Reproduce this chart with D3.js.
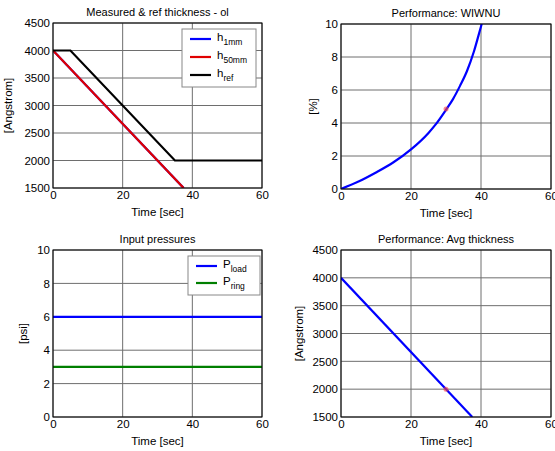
<!DOCTYPE html>
<html lang="en">
<head>
<meta charset="utf-8">
<title>Thickness control</title>
<script src="https://cdn.jsdelivr.net/npm/d3@7"></script>
<style>
  body { margin: 0; background: #fff; }
  text { font-family: "Liberation Sans", Arial, sans-serif; fill: #000; }
</style>
</head>
<body>
<div id="fig"></div>
<script>
// thickness (top left)
var thickTime = [0, 37.5];
var h1mm = [4000, 1500];
var h50mm = [4000, 1500];
var refTime = [0, 5, 35, 60];
var href = [4000, 4000, 2000, 2000];

// WIWNU (top right)
var wiwnuTime = [0, 5, 10, 15, 20, 25, 27, 30, 32, 34, 36, 38, 40, 40.2];
var wiwnu = [0, 0.45, 1.0, 1.62, 2.4, 3.4, 3.9, 4.8, 5.45, 6.25, 7.15, 8.35, 9.85, 10];

// pressures (bottom left)
var presTime = [0, 60];
var pLoad = [6, 6];
var pRing = [3, 3];

// avg thickness (bottom right)
var avgTime = [0, 37.5];
var avgThick = [4000, 1500];

// marker at current time
var markTime = 30;
var markWiwnu = 4.85;
var markAvg = 2000;

var xTicks = [0, 20, 40, 60];
var thickTicks = [1500, 2000, 2500, 3000, 3500, 4000, 4500];
var pctTicks = [0, 2, 4, 6, 8, 10];

var W = 555, H = 451;
var svg = d3.select("#fig").append("svg").attr("width", W).attr("height", H);

var BLUE = "#0000ff", RED = "#e00000", BLACK = "#000", GREEN = "#007f00";

function zip(a, b) { return a.map(function(v, i) { return [v, b[i]]; }); }

var clipId = 0;
function panel(o) {
  var x = d3.scaleLinear().domain([0, 60]).range([o.left, o.right]);
  var y = d3.scaleLinear().domain(o.ydom).range([o.bottom, o.top]);
  var g = svg.append("g");

  // grid
  g.selectAll(".gx").data(xTicks).enter().append("line")
    .attr("x1", function(d) { return x(d); }).attr("x2", function(d) { return x(d); })
    .attr("y1", o.top).attr("y2", o.bottom)
    .attr("stroke", "#6e6e6e").attr("stroke-width", 1);
  g.selectAll(".gy").data(o.yticks).enter().append("line")
    .attr("y1", function(d) { return y(d); }).attr("y2", function(d) { return y(d); })
    .attr("x1", o.left).attr("x2", o.right)
    .attr("stroke", "#6e6e6e").attr("stroke-width", 1);

  // axes
  var ax = g.append("g").attr("transform", "translate(0," + o.bottom + ")")
    .call(d3.axisBottom(x).tickValues(xTicks).tickFormat(d3.format("d")).tickSize(0).tickPadding(3));
  var ay = g.append("g").attr("transform", "translate(" + o.left + ",0)")
    .call(d3.axisLeft(y).tickValues(o.yticks).tickFormat(d3.format("d")).tickSize(0).tickPadding(3));
  [ax, ay].forEach(function(a) {
    a.select(".domain").remove();
    a.selectAll("text").style("font-family", "Liberation Sans, Arial, sans-serif")
      .style("font-size", "11.5px").attr("fill", "#222");
  });

  // lines
  clipId++;
  svg.append("clipPath").attr("id", "c" + clipId).append("rect")
    .attr("x", o.left).attr("y", o.top)
    .attr("width", o.right - o.left).attr("height", o.bottom - o.top);
  var lg = g.append("g").attr("clip-path", "url(#c" + clipId + ")");
  o.series.forEach(function(s) {
    var line = d3.line().curve(s.smooth ? d3.curveMonotoneX : d3.curveLinear)
      .x(function(d) { return x(d[0]); }).y(function(d) { return y(d[1]); });
    lg.append("path").datum(s.pts).attr("d", line)
      .attr("fill", "none").attr("stroke", s.color).attr("stroke-width", 2.2);
  });
  if (o.mark) {
    lg.append("circle").attr("cx", x(o.mark[0])).attr("cy", y(o.mark[1])).attr("r", 2.5)
      .attr("fill", "#ff4040").attr("opacity", 0.6);
  }

  // box
  g.append("rect").attr("x", o.left).attr("y", o.top)
    .attr("width", o.right - o.left).attr("height", o.bottom - o.top)
    .attr("fill", "none").attr("stroke", "#000").attr("stroke-width", 1);

  // labels
  g.append("text").attr("x", (o.left + o.right) / 2).attr("y", o.top - 7)
    .attr("text-anchor", "middle").style("font-size", "11px").text(o.title);
  g.append("text").attr("x", (o.left + o.right) / 2).attr("y", o.bottom + 28)
    .attr("text-anchor", "middle").style("font-size", "11.5px").text("Time [sec]");
  g.append("text")
    .attr("transform", "translate(" + o.ylabX + "," + (o.top + o.bottom) / 2 + ") rotate(-90)")
    .attr("text-anchor", "middle").style("font-size", "11.5px").text(o.ylabel);

  // legend
  if (o.legend) {
    var L = o.legend;
    g.append("rect").attr("x", L.x).attr("y", L.y).attr("width", L.w).attr("height", L.h)
      .attr("fill", "#fff").attr("stroke", "#888").attr("stroke-width", 1);
    L.items.forEach(function(it, i) {
      var yy = L.y + L.first + i * L.step;
      g.append("line").attr("x1", L.x + 8).attr("x2", L.x + 29)
        .attr("y1", yy).attr("y2", yy).attr("stroke", it.color).attr("stroke-width", 2.2);
      var t = g.append("text").attr("x", L.x + 35).attr("y", yy + 2).style("font-size", "11.5px");
      t.append("tspan").text(it.main);
      t.append("tspan").attr("dy", 4).style("font-size", "8.5px").text(it.sub);
    });
  }
}

panel({
  left: 53, right: 262, top: 23, bottom: 188,
  ydom: [1500, 4500], yticks: thickTicks,
  title: "Measured & ref thickness - ol", ylabel: "[Angstrom]", ylabX: 12,
  series: [
    { pts: zip(thickTime, h1mm), color: BLUE },
    { pts: zip(thickTime, h50mm), color: RED },
    { pts: zip(refTime, href), color: BLACK }
  ],
  legend: { x: 182, y: 29, w: 74, h: 58, first: 10, step: 18,
    items: [
      { main: "h", sub: "1mm", color: BLUE },
      { main: "h", sub: "50mm", color: RED },
      { main: "h", sub: "ref", color: BLACK }
    ] }
});

panel({
  left: 341, right: 551, top: 24, bottom: 189,
  ydom: [0, 10], yticks: pctTicks,
  title: "Performance: WIWNU", ylabel: "[%]", ylabX: 317,
  series: [{ pts: zip(wiwnuTime, wiwnu), color: BLUE, smooth: true }],
  mark: [markTime, markWiwnu]
});

panel({
  left: 53, right: 262, top: 250, bottom: 417,
  ydom: [0, 10], yticks: pctTicks,
  title: "Input pressures", ylabel: "[psi]", ylabX: 27,
  series: [
    { pts: zip(presTime, pLoad), color: BLUE },
    { pts: zip(presTime, pRing), color: GREEN }
  ],
  legend: { x: 188, y: 256, w: 72, h: 39, first: 10, step: 17,
    items: [
      { main: "P", sub: "load", color: BLUE },
      { main: "P", sub: "ring", color: GREEN }
    ] }
});

panel({
  left: 341, right: 551, top: 250, bottom: 417,
  ydom: [1500, 4500], yticks: thickTicks,
  title: "Performance: Avg thickness", ylabel: "[Angstrom]", ylabX: 303,
  series: [{ pts: zip(avgTime, avgThick), color: BLUE }],
  mark: [markTime, markAvg]
});
</script>
</body>
</html>
